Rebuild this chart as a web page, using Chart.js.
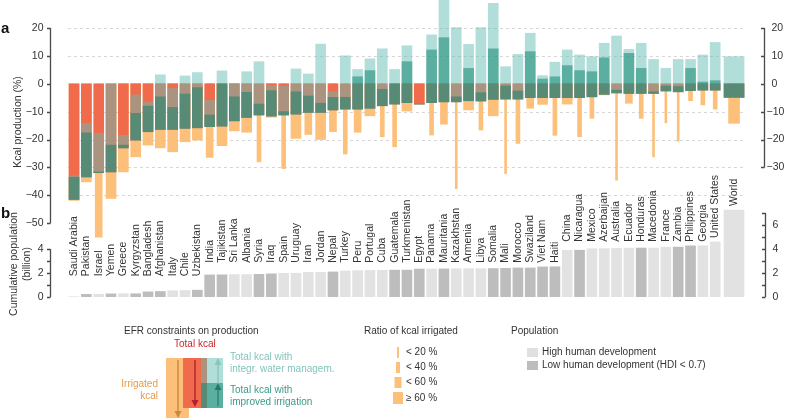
<!DOCTYPE html>
<html>
<head>
<meta charset="utf-8">
<script src="https://cdn.jsdelivr.net/npm/chart.js@4.4.1/dist/chart.umd.min.js"></script>
<style>
  body { margin: 0; background: #fff; font-family: "Liberation Sans", Arial, sans-serif; color: #333; }
  #page { position: relative; width: 788px; height: 418px; overflow: hidden; }
  canvas { position: absolute; left: 0; }
  #chartA { top: 0; }
  #chartB { top: 170px; }
  .t { position: absolute; white-space: nowrap; font-size: 10px; line-height: 12px; }
  .panel { position: absolute; font-weight: bold; font-size: 15px; color: #111; }
  .ytitle { position: absolute; transform: translate(-50%, -50%) rotate(-90deg); white-space: nowrap;
            font-size: 10.5px; line-height: 12.5px; text-align: center; }
  svg { position: absolute; left: 0; top: 0; }
</style>
</head>
<body>
<div id="page">
  <canvas id="chartA" width="788" height="240"></canvas>
  <canvas id="chartB" width="788" height="135"></canvas>

  <div class="panel" style="left:1px;top:19px">a</div>
  <div class="panel" style="left:1px;top:204px">b</div>
  <div class="ytitle" style="left:17px;top:122px">Kcal production (%)</div>
  <div class="ytitle" style="left:19px;top:264px">Cumulative population<br>(billion)</div>

  <svg width="788" height="418">
    <rect x="166" y="358" width="23" height="60" fill="#fdc07a"/>
    <rect x="183" y="358" width="24" height="50" fill="#ef6b4b"/>
    <rect x="201" y="358" width="22" height="50" fill="rgba(101,189,181,0.5)"/>
    <rect x="201" y="383" width="22" height="25" fill="rgba(6,130,106,0.5)"/>
    <line x1="178" y1="360" x2="178" y2="412" stroke="#c8893a" stroke-width="1.4"/>
    <polygon points="174.5,411 181.5,411 178,418" fill="#c8893a"/>
    <line x1="195" y1="360" x2="195" y2="401" stroke="#b3202b" stroke-width="1.4"/>
    <polygon points="191.5,400 198.5,400 195,407" fill="#b3202b"/>
    <line x1="218" y1="406" x2="218" y2="364" stroke="#86c6be" stroke-width="1.4"/>
    <polygon points="214.5,365 221.5,365 218,358" fill="#86c6be"/>
    <line x1="218" y1="406" x2="218" y2="389" stroke="#1f7b6b" stroke-width="1.4"/>
    <polygon points="214.5,390 221.5,390 218,383" fill="#1f7b6b"/>

    <rect x="397" y="347" width="2" height="11" fill="#fdc07a"/>
    <rect x="396" y="362" width="4" height="11" fill="#fdc07a"/>
    <rect x="394.5" y="377" width="7" height="11" fill="#fdc07a"/>
    <rect x="393" y="392" width="10" height="12" fill="#fdc07a"/>

    <rect x="527" y="348" width="11" height="9" fill="#e0e0e0"/>
    <rect x="527" y="361" width="11" height="9" fill="#bdbdbd"/>
  </svg>

  <div class="t" style="left:124px;top:325px">EFR constraints on production</div>
  <div class="t" style="left:174px;top:338px;color:#c9262c">Total kcal</div>
  <div class="t" style="right:630px;top:378px;color:#e59a45;text-align:right">Irrigated<br>kcal</div>
  <div class="t" style="left:230px;top:351px;color:#84c5bd">Total kcal with<br>integr. water managem.</div>
  <div class="t" style="left:230px;top:384px;color:#3b9a88">Total kcal with<br>improved irrigation</div>

  <div class="t" style="left:364px;top:325px">Ratio of kcal irrigated</div>
  <div class="t" style="left:406px;top:346px">&lt; 20 %</div>
  <div class="t" style="left:406px;top:361px">&lt; 40 %</div>
  <div class="t" style="left:406px;top:376px">&lt; 60 %</div>
  <div class="t" style="left:406px;top:392px">&ge; 60 %</div>

  <div class="t" style="left:511px;top:325px">Population</div>
  <div class="t" style="left:542px;top:346px">High human development</div>
  <div class="t" style="left:542px;top:359px">Low human development (HDI &lt; 0.7)</div>
</div>

<script>
// ---- data ----
const countries = ['Saudi Arabia', 'Pakistan', 'Israel', 'Yemen', 'Greece', 'Kyrgyzstan', 'Bangladesh',
    'Afghanistan', 'Italy', 'Chile', 'Uzbekistan', 'India', 'Tajikistan', 'Sri Lanka', 'Albania', 'Syria',
    'Iraq', 'Spain', 'Uruguay', 'Iran', 'Jordan', 'Nepal', 'Turkey', 'Peru', 'Portugal', 'Cuba', 'Guatemala',
    'Turkmenistan', 'Egypt', 'Panama', 'Mauritania', 'Kazakhstan', 'Armenia', 'Libya', 'Somalia', 'Mali',
    'Morocco', 'Swaziland', 'Viet Nam', 'Haiti', 'China', 'Nicaragua', 'Mexico', 'Azerbaijan', 'Australia',
    'Ecuador', 'Honduras', 'Macedonia', 'France', 'Zambia', 'Philippines', 'Georgia', 'United States', 'World'];

// total kcal with EFR constraints (%)
const totalKcal = [-41.5, -33.4, -31.9, -31.6, -23.0, -20.2, -17.2, -16.4, -16.4, -16.0, -15.8, -15.4, -15.2,
    -13.3, -12.1, -11.2, -11.6, -11.2, -10.9, -10.3, -10.3, -9.4, -9.1, -9.1, -8.8, -7.9, -7.3, -6.8, -7.3,
    -6.8, -6.5, -6.5, -6.1, -6.2, -5.6, -5.5, -5.5, -5.0, -5.0, -5.0, -5.0, -5.0, -4.7, -3.8, -3.3, -3.5,
    -3.5, -3.5, -2.6, -2.9, -2.5, -2.3, -2.3, -4.9];
// total kcal with integrated water management (%)
const integrWater = [-33.0, -14.2, -17.8, 0, -18.5, -4.0, -6.7, 3.2, -1.7, 2.8, 4.0, -5.9, 4.6, 0, 4.3, 7.9,
    -0.6, -0.8, 5.3, 3.5, 14.2, -2.9, 10.0, 5.1, 8.9, 12.5, 5.1, 13.6, -7.3, 17.5, 30.5, 20.1, 14.1, 20.1,
    28.8, 6.1, 10.5, 18.1, 2.9, 7.7, 12.1, 10.3, 9.7, 14.5, 17.1, 12.3, 14.5, 8.7, 5.5, 8.7, 8.7, 10.3, 14.8, 9.7];
// total kcal with improved irrigation (%)
const improvedIrr = [-33.5, -17.6, -31.6, -22.0, -22.0, -10.6, -8.0, -4.7, -8.5, -3.7, -1.4, -11.2, 0, -4.7,
    -3.1, -7.3, -2.5, -10.0, -2.9, -4.4, -7.0, -4.9, -4.9, 2.5, 4.7, -2.0, 0, 7.9, -7.3, 12.1, 16.5, -4.7, 5.5,
    -3.2, 12.5, -0.8, -2.6, 11.5, 1.7, 2.5, 6.5, 4.7, 4.3, 9.3, -2.3, 10.9, 5.5, -2.9, -0.8, -1.0, 5.5, 0.6, 1.1, 0];
// irrigated kcal (%)
const irrigatedKcal = [-41.8, -35.2, -55.0, -41.1, -31.6, -26.2, -22.0, -23.0, -24.4, -20.8, -20.2, -26.4,
    -22.2, -16.9, -17.4, -28.0, -12.0, -30.4, -19.6, -18.2, -20.0, -17.2, -25.2, -17.4, -11.5, -19.0, -22.6,
    -9.8, -7.3, -18.4, -14.5, -37.6, -9.4, -16.6, -11.5, -32.2, -21.4, -8.8, -7.4, -18.5, -7.3, -19.0, -12.4,
    -4.0, -34.6, -7.0, -12.4, -26.2, -14.0, -20.6, -6.1, -7.6, -9.1, -14.2];
// ratio of kcal irrigated: 1 <20%, 2 <40%, 3 <60%, 4 >=60%
const irrigRatioClass = [4, 4, 3, 4, 4, 4, 4, 4, 4, 4, 4, 3, 4, 4, 4, 2, 4, 2, 4, 3, 4, 3, 2, 3, 4, 2, 2, 4, 4,
    2, 3, 1, 4, 2, 4, 1, 2, 3, 4, 2, 4, 2, 2, 4, 1, 3, 2, 1, 1, 1, 2, 2, 2, 3];
// cumulative population (billion)
const cumPopulation = [0.03, 0.22, 0.23, 0.26, 0.27, 0.27, 0.43, 0.46, 0.52, 0.54, 0.57, 1.84, 1.85, 1.87,
    1.87, 1.89, 1.93, 1.97, 1.98, 2.05, 2.06, 2.09, 2.17, 2.20, 2.21, 2.22, 2.24, 2.24, 2.33, 2.33, 2.34, 2.35,
    2.36, 2.36, 2.37, 2.39, 2.42, 2.42, 2.51, 2.52, 3.89, 3.90, 4.02, 4.03, 4.05, 4.07, 4.08, 4.08, 4.15, 4.16,
    4.26, 4.27, 4.59, 7.25];
// 1 = low human development (HDI < 0.7)
const lowHDI = [0, 1, 0, 1, 0, 1, 1, 1, 0, 0, 1, 1, 1, 0, 0, 1, 1, 0, 0, 0, 0, 1, 0, 0, 0, 0, 1, 1, 1, 0, 1, 0,
    0, 0, 1, 1, 1, 1, 1, 1, 0, 1, 0, 0, 0, 0, 1, 0, 0, 1, 1, 0, 0, 0];

const kcalTicksLeft = [20, 10, 0, -10, -20, -30, -40, -50];
const kcalTicksRight = [20, 10, 0, -10, -20, -30];
const kcalGrid = [20, 10, -10, -20, -30, -40];
const popTicksLeft = [0, 1, 2, 3, 4];
const popLabelsLeft = [0, 2, 4];
const popTicksRight = [0, 1, 2, 3, 4, 5, 6, 7];
const popLabelsRight = [0, 2, 4, 6];

// ---- styling ----
const ORANGE = '#fdc07a';
const RED = '#ef6b4b';
const TEAL_LIGHT = 'rgba(101,189,181,0.5)';
const TEAL_DARK = 'rgba(6,130,106,0.5)';
const GREY_LIGHT = '#e2e2e2';
const GREY_DARK = '#bdbdbd';
const AXIS = '#4a4a4a';
const FONT = '10.5px "Liberation Sans", Arial, sans-serif';

const nC = countries.length - 1;          // World is last
const worldGap = 1.53;
const xPos = countries.map((c, i) => i < nC ? i : nC - 1 + worldGap);
const xMin = -1.95, xMax = 56.04;
const orangeW = [0, 2, 4, 7, 10];
const barW = 10, worldW = 20, worldOrangeW = 11;
const labelGap = 4, labelFloor = 1.4, clusterJump = 0.3;

const isWorld = i => i === nC;
const notWorld = i => i !== nC;
const zeros = countries.map(() => 0);

function floating(lo, hi, keep) {
    const out = [];
    xPos.forEach((x, i) => {
        if (keep(i)) out.push({x: x, y: [lo[i], hi[i]]});
    });
    return out;
}

function drawAxis(chart, xPix, from, to, ticks, labels, side) {
    const {ctx, scales: {y}} = chart;
    ctx.save();
    ctx.strokeStyle = AXIS;
    ctx.lineWidth = 1.3;
    ctx.beginPath();
    ctx.moveTo(xPix, y.getPixelForValue(from));
    ctx.lineTo(xPix, y.getPixelForValue(to));
    ticks.forEach(v => {
        const py = Math.round(y.getPixelForValue(v)) + 0.5;
        ctx.moveTo(xPix - 3.5, py);
        ctx.lineTo(xPix, py);
    });
    ctx.stroke();
    ctx.fillStyle = '#333';
    ctx.font = FONT;
    ctx.textBaseline = 'middle';
    labels.forEach(v => {
        const py = y.getPixelForValue(v);
        const txt = v < 0 ? '\u2212' + Math.abs(v) : String(v);
        if (side === 'left') {
            ctx.textAlign = 'right';
            ctx.fillText(txt, xPix - 7, py);
        } else {
            ctx.textAlign = 'left';
            ctx.fillText(txt, v < 0 ? xPix + 2 : xPix + 7, py);
        }
    });
    ctx.restore();
}

const kcalPlugin = {
    id: 'kcalAxes',
    beforeDatasetsDraw(chart) {
        const {ctx, scales: {x, y}} = chart;
        ctx.save();
        ctx.strokeStyle = '#d6d6d6';
        ctx.lineWidth = 1;
        ctx.setLineDash([3, 3]);
        const x0 = x.getPixelForValue(-0.5), x1 = x.getPixelForValue(xPos[nC] + 0.85);
        kcalGrid.forEach(v => {
            const py = Math.round(y.getPixelForValue(v)) + 0.5;
            ctx.beginPath();
            ctx.moveTo(x0, py);
            ctx.lineTo(x1, py);
            ctx.stroke();
        });
        ctx.restore();
    },
    afterDraw(chart) {
        const area = chart.chartArea;
        drawAxis(chart, area.left + 0.5, 20, -50, kcalTicksLeft, kcalTicksLeft, 'left');
        drawAxis(chart, area.right - 0.5, 20, -30, kcalTicksRight, kcalTicksRight, 'right');
    }
};

const popPlugin = {
    id: 'popAxes',
    afterDatasetsDraw(chart) {
        const {ctx, scales: {x, y}} = chart;
        // labels sit above the highest bar of each run of similar heights
        const anchor = [];
        let start = 0;
        for (let i = 1; i <= cumPopulation.length; i++) {
            if (i === cumPopulation.length || cumPopulation[i] - cumPopulation[i - 1] > clusterJump) {
                const top = Math.max(labelFloor, ...cumPopulation.slice(start, i));
                for (let j = start; j < i; j++) anchor[j] = top;
                start = i;
            }
        }
        ctx.save();
        ctx.fillStyle = '#333';
        ctx.font = FONT;
        countries.forEach((name, i) => {
            ctx.save();
            ctx.translate(x.getPixelForValue(xPos[i]), y.getPixelForValue(anchor[i]) - labelGap);
            ctx.rotate(-Math.PI / 2);
            ctx.textAlign = 'left';
            ctx.textBaseline = 'middle';
            ctx.fillText(name, 0, 0);
            ctx.restore();
        });
        ctx.restore();
    },
    afterDraw(chart) {
        const area = chart.chartArea;
        drawAxis(chart, area.left + 0.5, 0, 4, popTicksLeft, popLabelsLeft, 'left');
        drawAxis(chart, area.right + 0.5, 0, 7, popTicksRight, popLabelsRight, 'right');
    }
};

function baseOptions(yMin, yMax, pad) {
    return {
        responsive: false,
        animation: false,
        devicePixelRatio: 1,
        layout: {padding: pad},
        plugins: {legend: {display: false}, tooltip: {enabled: false}},
        scales: {
            x: {type: 'linear', min: xMin, max: xMax, offset: false, stacked: true, display: false},
            y: {min: yMin, max: yMax, stacked: false, display: false}
        }
    };
}

// ---- panel a ----
const dsA = [];
[1, 2, 3, 4].forEach(c => {
    dsA.push({data: floating(irrigatedKcal, zeros, i => notWorld(i) && irrigRatioClass[i] === c),
        backgroundColor: ORANGE, barThickness: orangeW[c], order: 3, stack: 's'});
});
dsA.push({data: floating(irrigatedKcal, zeros, isWorld), backgroundColor: ORANGE,
    barThickness: worldOrangeW, order: 3, stack: 's'});
[[notWorld, barW], [isWorld, worldW]].forEach(([keep, w]) => {
    dsA.push({data: floating(totalKcal, zeros, keep), backgroundColor: RED, barThickness: w, order: 2, stack: 's'});
    dsA.push({data: floating(totalKcal, integrWater, keep), backgroundColor: TEAL_LIGHT, barThickness: w, order: 1, stack: 's'});
    dsA.push({data: floating(totalKcal, improvedIrr, keep), backgroundColor: TEAL_DARK, barThickness: w, order: 0, stack: 's'});
});

new Chart(document.getElementById('chartA'), {
    type: 'bar',
    data: {datasets: dsA},
    options: baseOptions(-56, 30, {left: 50, right: 23, top: 0, bottom: 0}),
    plugins: [kcalPlugin]
});

// ---- panel b ----
function popBars(keep) {
    const out = [];
    xPos.forEach((x, i) => {
        if (keep(i)) out.push({x: x, y: cumPopulation[i], low: lowHDI[i]});
    });
    return out;
}
const hdiColor = ctx => (ctx.raw && ctx.raw.low) ? GREY_DARK : GREY_LIGHT;

new Chart(document.getElementById('chartB'), {
    type: 'bar',
    data: {
        datasets: [
            {data: popBars(notWorld), backgroundColor: hdiColor, barThickness: barW, stack: 's'},
            {data: popBars(isWorld), backgroundColor: hdiColor, barThickness: worldW, stack: 's'}
        ]
    },
    options: baseOptions(0, 7.5, {left: 50, right: 23, top: 37, bottom: 8}),
    plugins: [popPlugin]
});
</script>
</body>
</html>
